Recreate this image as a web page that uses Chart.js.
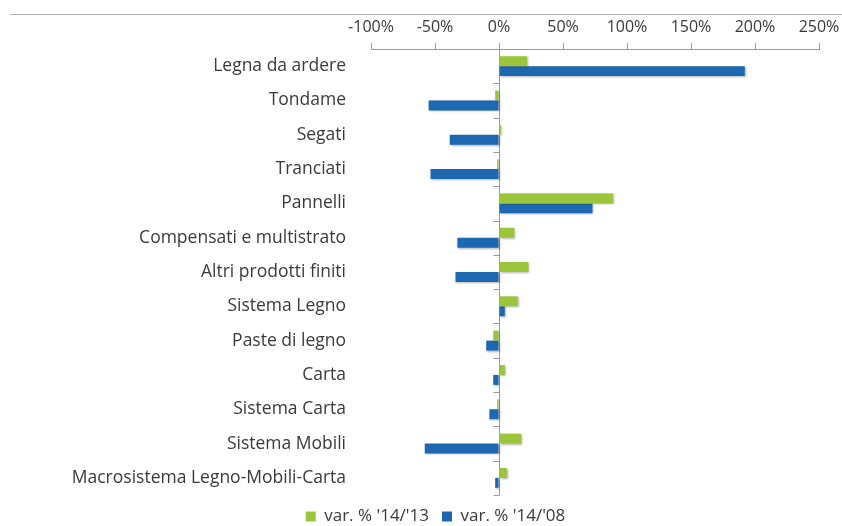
<!DOCTYPE html>
<html>
<head>
<meta charset="utf-8">
<script src="https://cdn.jsdelivr.net/npm/chart.js@4"></script>
<style>
  html, body { margin: 0; padding: 0; background: #fff; }
  #wrap { width: 842px; height: 526px; }
</style>
</head>
<body>
<div id="wrap"><canvas id="myChart" width="842" height="526"></canvas></div>
<script>
const categories = [
  'Legna da ardere', 'Tondame', 'Segati', 'Tranciati', 'Pannelli',
  'Compensati e multistrato', 'Altri prodotti finiti', 'Sistema Legno',
  'Paste di legno', 'Carta', 'Sistema Carta', 'Sistema Mobili',
  'Macrosistema Legno-Mobili-Carta'
];
const var1413 = [22, -3, 1.5, -1.5, 89, 12, 23, 14.5, -4.5, 4.5, -1.5, 17.5, 6];
const var1408 = [192, -55, -38.5, -53.5, 73, -32.5, -34, 4.5, -10, -4.5, -7.5, -58, -3];
const seriesNames = ["var. % '14/'13", "var. % '14/'08"];

const GREEN = 'rgb(155, 198, 59)';
const BLUE = 'rgb(29, 105, 177)';
const TEXT = '#3a3a3a';
const AXIS = '#9a9a9a';

Chart.defaults.font.family = "'Open Sans', sans-serif";
Chart.defaults.color = TEXT;

// separator line, bar shadows, little ticks on the zero line
const extras = {
  id: 'extras',
  beforeDraw(chart) {
    const ctx = chart.ctx;
    ctx.save();
    ctx.strokeStyle = '#b4b4b4';
    ctx.lineWidth = 1;
    ctx.beginPath();
    ctx.moveTo(10, 14.5);
    ctx.lineTo(842, 14.5);
    ctx.stroke();
    ctx.restore();
  },
  beforeDatasetsDraw(chart) {
    const ctx = chart.ctx;
    ctx.save();
    ctx.shadowColor = 'rgba(0,0,0,0.3)';
    ctx.shadowBlur = 2;
    ctx.shadowOffsetX = 1;
    ctx.shadowOffsetY = 1;
  },
  afterDatasetsDraw(chart) {
    const ctx = chart.ctx;
    ctx.restore();
    const x0 = Math.round(chart.scales.x.getPixelForValue(0)) + 0.5;
    const area = chart.chartArea;
    const step = (area.bottom - area.top) / categories.length;
    ctx.save();
    ctx.strokeStyle = AXIS;
    ctx.lineWidth = 1;
    ctx.beginPath();
    for (let i = 1; i <= categories.length; i++) {
      const y = Math.round(area.top + step * i) + 0.5;
      ctx.moveTo(x0 - 6, y);
      ctx.lineTo(x0, y);
    }
    ctx.stroke();
    ctx.restore();
  }
};

const data = {
  labels: categories,
  datasets: [{
    label: seriesNames[0],
    data: var1413,
    backgroundColor: GREEN,
    categoryPercentage: 0.58,
    barPercentage: 1.0
  }, {
    label: seriesNames[1],
    data: var1408,
    backgroundColor: BLUE,
    categoryPercentage: 0.58,
    barPercentage: 1.0
  }]
};

const config = {
  type: 'bar',
  data: data,
  options: {
    indexAxis: 'y',
    responsive: false,
    animation: false,
    layout: { padding: { left: 52, right: 23, top: 0, bottom: 0 } },
    plugins: {
      tooltip: { enabled: false },
      legend: {
        position: 'bottom',
        maxHeight: 31,
        labels: {
          boxWidth: 10,
          boxHeight: 10,
          padding: 13,
          font: { size: 17 },
          color: TEXT
        }
      }
    },
    scales: {
      x: {
        position: 'top',
        min: -100,
        max: 250,
        ticks: {
          stepSize: 50,
          padding: 6,
          font: { size: 16 },
          color: TEXT,
          callback: v => v + '%'
        },
        grid: {
          drawOnChartArea: true,
          color: c => (c.tick && c.tick.value === 0) ? AXIS : 'rgba(0,0,0,0)',
          tickColor: AXIS,
          tickLength: 6
        },
        border: { display: true, color: AXIS },
        afterFit: s => { s.height = 49; s.paddingLeft = 0; s.paddingRight = 0; }
      },
      y: {
        ticks: {
          padding: 17,
          font: { size: 17.5 },
          color: TEXT,
          autoSkip: false
        },
        grid: { display: false },
        border: { display: false },
        afterFit: s => { s.width = 319; }
      }
    }
  },
  plugins: [extras]
};

const myChart = new Chart(document.getElementById('myChart'), config);
</script>
</body>
</html>
